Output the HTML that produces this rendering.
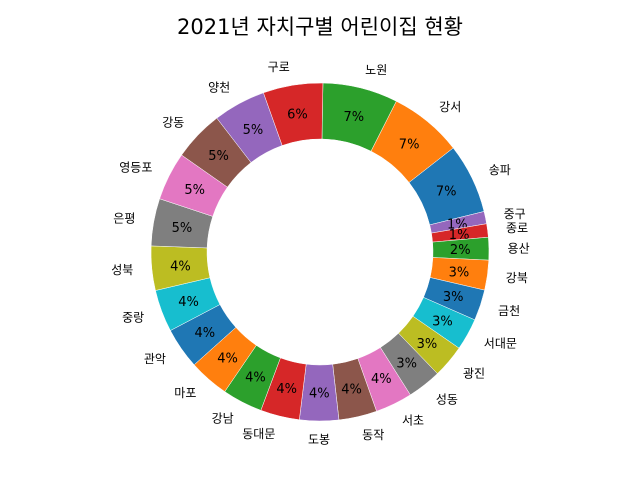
<!DOCTYPE html>
<html><head><meta charset="utf-8">
<style>
body{margin:0;background:#fff;}
svg text{font-family:"DejaVu Sans","Noto Sans CJK KR",sans-serif;}
</style></head>
<body>
<svg id="chart" width="640" height="480" xmlns="http://www.w3.org/2000/svg">
<text x="320" y="34" text-anchor="middle" font-size="21" fill="#000">2021년 자치구별 어린이집 현황</text>
<g id="slices"></g>
</svg>
<script>
const districts = ["노원","강서","송파","중구","종로","용산","강북","금천","서대문","광진","성동","서초","동작","도봉","동대문","강남","마포","관악","중랑","성북","은평","영등포","강동","양천","구로"];
const values = [7.3,7.1,6.8,1.2,1.3,2.2,2.9,3.0,3.1,3.2,3.3,3.6,3.7,3.8,3.8,3.9,3.9,4.0,4.1,4.3,4.6,4.7,4.9,5.1,5.8];
const colors = ["#2ca02c","#ff7f0e","#1f77b4","#9467bd","#d62728","#2ca02c","#ff7f0e","#1f77b4","#17becf","#bcbd22","#7f7f7f","#e377c2","#8c564b","#9467bd","#d62728","#2ca02c","#ff7f0e","#1f77b4","#17becf","#bcbd22","#7f7f7f","#e377c2","#8c564b","#9467bd","#d62728"];
const cx=320, cy=252, R=169, r=113, startDeg=1;
const g=document.getElementById('slices');
const total=values.reduce((a,b)=>a+b,0);
const NS="http://www.w3.org/2000/svg";
function pt(rad,deg){const a=deg*Math.PI/180;return [cx+rad*Math.sin(a),cy-rad*Math.cos(a)];}
let acc=startDeg;
values.forEach((v,i)=>{
  const span=v/total*360, a0=acc, a1=acc+span; acc=a1;
  const p0=pt(R,a0),p1=pt(R,a1),q1=pt(r,a1),q0=pt(r,a0);
  const large=span>180?1:0;
  const path=document.createElementNS(NS,'path');
  path.setAttribute('d',`M${p0[0]},${p0[1]} A${R},${R} 0 ${large} 1 ${p1[0]},${p1[1]} L${q1[0]},${q1[1]} A${r},${r} 0 ${large} 0 ${q0[0]},${q0[1]} Z`);
  path.setAttribute('fill',colors[i]);
  path.setAttribute('stroke','#fff');
  path.setAttribute('stroke-width','0.5');
  
  
  g.appendChild(path);
  const mid=(a0+a1)/2;
  const pp=pt(R*0.83,mid);
  const t=document.createElementNS(NS,'text');
  t.setAttribute('x',pp[0]);t.setAttribute('y',pp[1]+5);
  t.setAttribute('text-anchor','middle');t.setAttribute('font-size','13');
  t.textContent=Math.round(v/total*100)+'%';
  
  
  g.appendChild(t);
  const lp=pt(R*1.11,mid);
  const l=document.createElementNS(NS,'text');
  l.setAttribute('x',lp[0]);l.setAttribute('y',lp[1]+4);
  const s=Math.sin(mid*Math.PI/180);
  l.setAttribute('text-anchor',s>0.01?'start':(s<-0.01?'end':'middle'));
  l.setAttribute('font-size','12');
  l.textContent=districts[i];
  
  
  g.appendChild(l);
});
</script>
</body></html>
